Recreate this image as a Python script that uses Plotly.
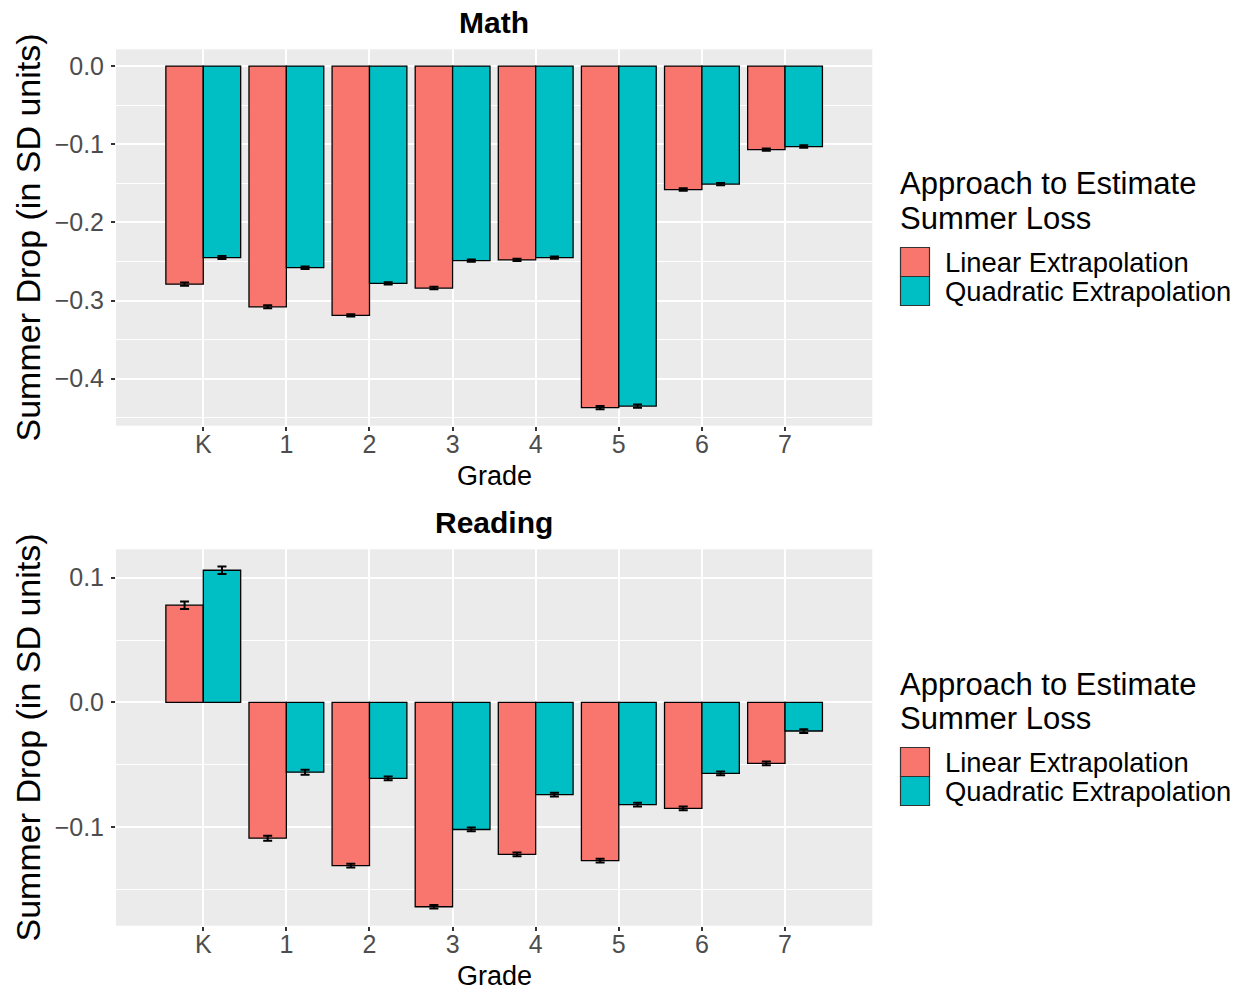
import plotly.graph_objects as go

# Summer drop estimates by grade (SD units)
grades = ["K", "1", "2", "3", "4", "5", "6", "7"]
approaches = ["Linear Extrapolation", "Quadratic Extrapolation"]

math_linear = [-0.279, -0.308, -0.319, -0.284, -0.248, -0.437, -0.158, -0.107]
math_quadratic = [-0.245, -0.258, -0.278, -0.249, -0.245, -0.435, -0.151, -0.103]
math_linear_se = [0.002, 0.002, 0.0015, 0.0015, 0.0015, 0.002, 0.0015, 0.0015]
math_quadratic_se = [0.002, 0.0015, 0.0015, 0.0015, 0.0015, 0.002, 0.0015, 0.0015]

reading_linear = [0.078, -0.109, -0.131, -0.164, -0.122, -0.127, -0.085, -0.049]
reading_quadratic = [0.106, -0.056, -0.061, -0.102, -0.074, -0.082, -0.057, -0.023]
reading_linear_se = [0.003, 0.002, 0.0015, 0.0015, 0.0015, 0.0015, 0.0015, 0.0015]
reading_quadratic_se = [0.003, 0.002, 0.0015, 0.0015, 0.0015, 0.0015, 0.0015, 0.0015]

W, H = 1246, 993
FONT = "Liberation Sans, Arial, Helvetica, sans-serif"
COLORS = ["#F8766D", "#00BFC4"]
PANEL_BG = "#EBEBEB"


def px_x(x):
    return x / W


def px_y(y):
    return 1 - y / H


def bar(x, y, se, color, xa, ya):
    return go.Bar(
        x=x, y=y, xaxis=xa, yaxis=ya,
        marker=dict(color=color, line=dict(color="black", width=1.3)),
        error_y=dict(type="data", array=se, color="black", thickness=2, width=4.5),
        showlegend=False,
    )


fig = go.Figure()
fig.add_trace(bar(grades, math_linear, math_linear_se, COLORS[0], "x", "y"))
fig.add_trace(bar(grades, math_quadratic, math_quadratic_se, COLORS[1], "x", "y"))
fig.add_trace(bar(grades, reading_linear, reading_linear_se, COLORS[0], "x2", "y2"))
fig.add_trace(bar(grades, reading_quadratic, reading_quadratic_se, COLORS[1], "x2", "y2"))

panel_left, panel_right = 116, 872.3
panels = [
    # (title, top px, bottom px, y range)
    ("Math", 49.3, 425.7, [-0.4601, 0.0214]),
    ("Reading", 549.3, 925.7, [-0.1792, 0.1228]),
]

tick_font = dict(family=FONT, size=25, color="#4D4D4D")
common_x = dict(
    type="category", range=[-1.05, 8.05],
    domain=[px_x(panel_left), px_x(panel_right)],
    showgrid=True, gridcolor="white", gridwidth=2,
    ticks="outside", ticklen=4, tickwidth=1.5, tickcolor="#333333",
    tickfont=tick_font, showline=False, zeroline=False,
    ticklabelstandoff=-8,
)
common_y = dict(
    showgrid=True, gridcolor="white", gridwidth=2,
    dtick=0.1, tick0=0, tickformat=".1f",
    minor=dict(dtick=0.05, tick0=0, showgrid=True, gridcolor="white", gridwidth=1),
    ticks="outside", ticklen=4, tickwidth=1.5, tickcolor="#333333",
    tickfont=tick_font, showline=False, zeroline=False,
    ticklabelstandoff=2,
)

annotations = []
shapes = []
for i, (title, top, bottom, yr) in enumerate(panels):
    xa = "xaxis" if i == 0 else "xaxis2"
    ya = "yaxis" if i == 0 else "yaxis2"
    fig.update_layout({
        xa: dict(common_x, anchor="y" if i == 0 else "y2"),
        ya: dict(common_y, range=yr, domain=[px_y(bottom), px_y(top)],
                 anchor="x" if i == 0 else "x2"),
    })
    cx = (panel_left + panel_right) / 2
    cy = (top + bottom) / 2
    # panel title
    annotations.append(dict(
        text=f"<b>{title}</b>", x=px_x(cx), y=px_y(top - 27), xref="paper", yref="paper",
        xanchor="center", yanchor="middle", showarrow=False,
        font=dict(family=FONT, size=30, color="black"),
    ))
    # x-axis title
    annotations.append(dict(
        text="Grade", x=px_x(cx), y=px_y(bottom + 50), xref="paper", yref="paper",
        xanchor="center", yanchor="middle", showarrow=False,
        font=dict(family=FONT, size=27, color="black"),
    ))
    # y-axis title
    annotations.append(dict(
        text="Summer Drop (in SD units)", x=px_x(27), y=px_y(cy), xref="paper", yref="paper",
        xanchor="center", yanchor="middle", textangle=-90, showarrow=False,
        font=dict(family=FONT, size=34, color="black"),
    ))
    # legend: title, keys and labels
    off = 500 * i
    for line, ly in (("Approach to Estimate", 184), ("Summer Loss", 218)):
        annotations.append(dict(
            text=line, x=px_x(898), y=px_y(ly + off), xref="paper", yref="paper",
            xanchor="left", yanchor="middle", showarrow=False,
            font=dict(family=FONT, size=31, color="black"),
        ))
    for k, (name, color) in enumerate(zip(approaches, COLORS)):
        y0 = 247.5 + off + 29 * k
        shapes.append(dict(
            type="rect", xref="paper", yref="paper",
            x0=px_x(900.5), x1=px_x(929.5), y0=px_y(y0), y1=px_y(y0 + 29),
            fillcolor=color, line=dict(color="#333333", width=1.2),
        ))
        annotations.append(dict(
            text=name, x=px_x(943), y=px_y(y0 + 15), xref="paper", yref="paper",
            xanchor="left", yanchor="middle", showarrow=False,
            font=dict(family=FONT, size=27.4, color="black"),
        ))

fig.update_layout(
    width=W, height=H,
    margin=dict(l=0, r=0, t=0, b=0),
    paper_bgcolor="white", plot_bgcolor=PANEL_BG,
    barmode="group", bargap=0.1, bargroupgap=0,
    annotations=annotations, shapes=shapes,
    font=dict(family=FONT),
)

fig.write_html("out.html")
